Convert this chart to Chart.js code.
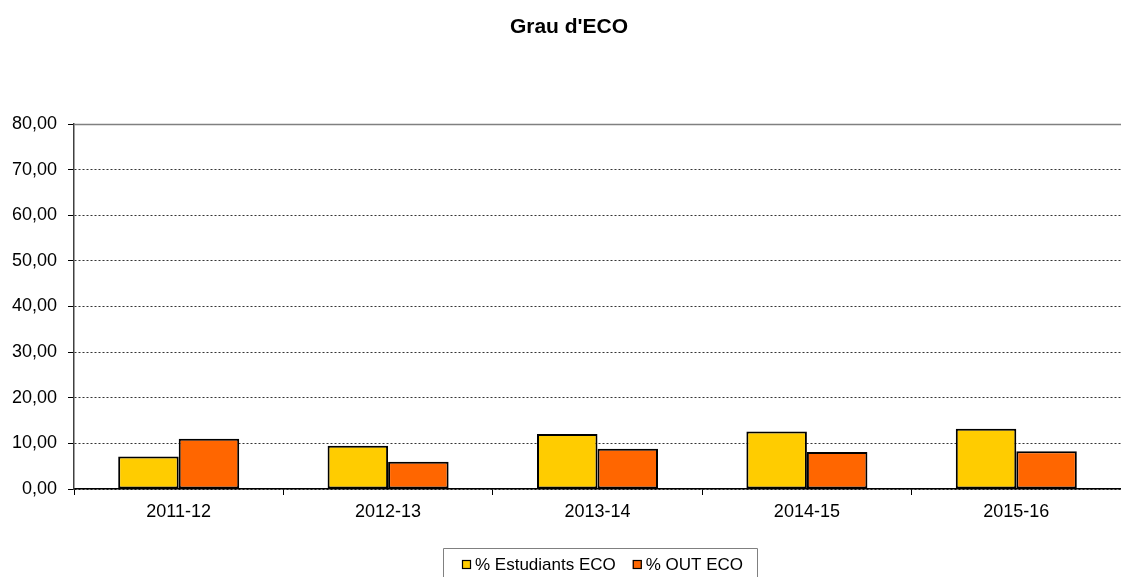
<!DOCTYPE html>
<html>
<head>
<meta charset="utf-8">
<script src="https://cdn.jsdelivr.net/npm/chart.js@4/dist/chart.umd.min.js"></script>
<style>
  html, body { margin: 0; padding: 0; background: #fff; }
  #wrap { width: 1121px; height: 577px; position: relative; }
</style>
</head>
<body>
<div id="wrap"><canvas id="c" width="1121" height="577"></canvas></div>
<script>
const chartTitle = "Grau d'ECO";
const categories = ['2011-12', '2012-13', '2013-14', '2014-15', '2015-16'];
const seriesNames = ['% Estudiants ECO', '% OUT ECO'];
const estudiantsEco = [7.1, 9.5, 12.05, 12.6, 13.2];
const outEco = [11.0, 6.0, 8.8, 8.1, 8.3];
const yTickValues = [0, 10, 20, 30, 40, 50, 60, 70, 80];
const seriesColors = ['#FFCC00', '#FF6600'];

const FONT = "'Liberation Sans', Arial, sans-serif";
Chart.defaults.font.family = FONT;
Chart.defaults.color = '#000';

const decorPlugin = {
  id: 'decor',
  afterDraw(chart) {
    const ctx = chart.ctx;
    const ca = chart.chartArea;
    ctx.save();
    // top frame line of plot area
    ctx.strokeStyle = '#808080';
    ctx.lineWidth = 1.5;
    ctx.beginPath();
    ctx.moveTo(ca.left, ca.top + 0.5);
    ctx.lineTo(ca.right, ca.top + 0.5);
    ctx.stroke();

    // title
    ctx.fillStyle = '#000';
    ctx.font = 'bold 21px ' + FONT;
    ctx.textAlign = 'center';
    ctx.textBaseline = 'middle';
    ctx.fillText(chartTitle, 569, 27);

    // legend
    const lx = 443, ly = 548.5;
    ctx.strokeStyle = '#808080';
    ctx.lineWidth = 1;
    ctx.beginPath();
    ctx.moveTo(lx + 0.5, 580);
    ctx.lineTo(lx + 0.5, ly);
    ctx.lineTo(757.5, ly);
    ctx.lineTo(757.5, 580);
    ctx.stroke();
    ctx.font = '17px ' + FONT;
    ctx.textAlign = 'left';
    let x = 462;
    const yMid = 565;
    chart.data.datasets.forEach((ds, i) => {
      ctx.fillStyle = ds.backgroundColor;
      ctx.fillRect(x, yMid - 5, 9, 9);
      ctx.strokeStyle = '#000';
      ctx.lineWidth = 1.2;
      ctx.strokeRect(x + 0.5, yMid - 4.5, 8, 8);
      ctx.fillStyle = '#000';
      ctx.fillText(ds.label, x + 13, yMid);
      x += ctx.measureText(ds.label).width + 13 + 17;
    });
    ctx.restore();
  }
};

new Chart(document.getElementById('c'), {
  type: 'bar',
  data: {
    labels: categories,
    datasets: [
      { label: seriesNames[0], data: estudiantsEco, backgroundColor: seriesColors[0], borderColor: '#000', borderWidth: 2, borderSkipped: false },
      { label: seriesNames[1], data: outEco, backgroundColor: seriesColors[1], borderColor: '#000', borderWidth: 2, borderSkipped: false }
    ]
  },
  options: {
    responsive: false,
    animation: false,
    devicePixelRatio: 1,
    layout: { padding: { top: 124, left: 0, right: 0, bottom: 0 } },
    plugins: { legend: { display: false }, title: { display: false }, tooltip: { enabled: false } },
    datasets: { bar: { categoryPercentage: 0.578, barPercentage: 1.0 } },
    scales: {
      x: {
        offset: true,
        grid: { display: true, drawOnChartArea: false, drawTicks: true, tickLength: 6, color: '#000', offset: true },
        border: { display: true, color: '#000', width: 1.5 },
        ticks: { font: { size: 18 }, color: '#000', padding: 6, maxRotation: 0 },
        afterFit(scale) { scale.height = 88; }
      },
      y: {
        min: 0, max: 80,
        afterBuildTicks(scale) { scale.ticks = yTickValues.map(v => ({ value: v })); },
        grid: {
          color: (c) => (c.tick && c.tick.value === 80) ? 'rgba(0,0,0,0)' : '#000',
          lineWidth: 0.8,
          drawTicks: true, tickLength: 6,
          tickColor: '#000', tickBorderDash: [], tickWidth: 1
        },
        border: { display: true, color: '#404040', width: 1.5, dash: [2, 2] },
        ticks: {
          font: { size: 18 }, color: '#000', padding: 11,
          callback: (v) => Number(v).toFixed(2).replace('.', ',')
        },
        afterFit(scale) { scale.width = 74; }
      }
    }
  },
  plugins: [decorPlugin]
});
</script>
</body>
</html>
